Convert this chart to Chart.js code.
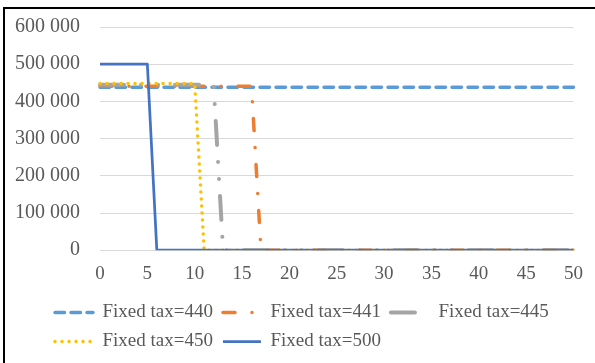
<!DOCTYPE html>
<html>
<head>
<meta charset="utf-8">
<script src="https://cdn.jsdelivr.net/npm/chart.js@4"></script>
<style>
  html, body { margin: 0; padding: 0; background: #fff; overflow: hidden; }
  #frame { position: absolute; left: 3px; top: 7px; width: 700px; height: 500px; border-left: 2px solid #000; border-top: 2px solid #000; }
  #myChart { position: absolute; left: 6px; top: 10px; }
</style>
</head>
<body>
<div id="frame"></div>
<canvas id="myChart" width="589" height="357"></canvas>
<script>
var steps = [0, 1, 2, 3, 4, 5, 6, 7, 8, 9, 10, 11, 12, 13, 14, 15, 16, 17, 18, 19, 20,
	21, 22, 23, 24, 25, 26, 27, 28, 29, 30, 31, 32, 33, 34, 35, 36, 37, 38, 39, 40,
	41, 42, 43, 44, 45, 46, 47, 48, 49, 50]

var seriesNames = ['Fixed tax=440', 'Fixed tax=441', 'Fixed tax=445', 'Fixed tax=450', 'Fixed tax=500']

var tax440 = [438000, 438000, 438000, 438000, 438000, 438000, 438000, 438000, 438000, 438000,
	438000, 438000, 438000, 438000, 438000, 438000, 438000, 438000, 438000, 438000,
	438000, 438000, 438000, 438000, 438000, 438000, 438000, 438000, 438000, 438000,
	438000, 438000, 438000, 438000, 438000, 438000, 438000, 438000, 438000, 438000,
	438000, 438000, 438000, 438000, 438000, 438000, 438000, 438000, 438000, 438000, 438000]

var tax441 = [441000, 441000, 441000, 441000, 441000, 441000, 441000, 441000, 441000, 441000,
	441000, 441000, 441000, 441000, 441000, 441000, 441000, 0, 0, 0,
	0, 0, 0, 0, 0, 0, 0, 0, 0, 0,
	0, 0, 0, 0, 0, 0, 0, 0, 0, 0,
	0, 0, 0, 0, 0, 0, 0, 0, 0, 0, 0]

var tax445 = [445000, 445000, 445000, 445000, 445000, 445000, 445000, 445000, 445000, 445000,
	445000, 445000, 445000, 0, 0, 0, 0, 0, 0, 0,
	0, 0, 0, 0, 0, 0, 0, 0, 0, 0,
	0, 0, 0, 0, 0, 0, 0, 0, 0, 0,
	0, 0, 0, 0, 0, 0, 0, 0, 0, 0, 0]

var tax450 = [448000, 448000, 448000, 448000, 448000, 448000, 448000, 448000, 448000, 448000,
	448000, 0, 0, 0, 0, 0, 0, 0, 0, 0,
	0, 0, 0, 0, 0, 0, 0, 0, 0, 0,
	0, 0, 0, 0, 0, 0, 0, 0, 0, 0,
	0, 0, 0, 0, 0, 0, 0, 0, 0, 0, 0]

var tax500 = [500000, 500000, 500000, 500000, 500000, 500000, 0, 0, 0, 0,
	0, 0, 0, 0, 0, 0, 0, 0, 0, 0,
	0, 0, 0, 0, 0, 0, 0, 0, 0, 0,
	0, 0, 0, 0, 0, 0, 0, 0, 0, 0,
	0, 0, 0, 0, 0, 0, 0, 0, 0, 0, 0]

function spaced(v) {
	return String(v).replace(/\B(?=(\d{3})+(?!\d))/g, ' ')
}

// moves the legend rows right and a bit up, Excel style
var legendShift = {
	id: 'legendShift',
	afterLayout: function(chart) {
		chart.legend.left += 39
		chart.legend.right += 39
		chart.legend.top -= 4
		chart.legend.bottom -= 4
	}
}

Chart.defaults.font.family = '"Liberation Serif", "Times New Roman", serif'
Chart.defaults.color = '#595959'

var ctx = document.getElementById('myChart').getContext('2d')
var chart = new Chart(ctx, {
	type: 'line',
	data: {
		labels: steps,
		datasets: [
			{
				label: seriesNames[0],
				data: tax440,
				borderColor: '#5B9BD5',
				backgroundColor: '#5B9BD5',
				borderWidth: 3.5,
				borderDash: [9.5, 6.5],
				borderCapStyle: 'round',
				order: 5
			},
			{
				label: seriesNames[1],
				data: tax441,
				borderColor: '#ED7D31',
				backgroundColor: '#ED7D31',
				borderWidth: 3.5,
				borderDash: [12, 17, 0.01, 17],
				borderCapStyle: 'round',
				order: 4
			},
			{
				label: seriesNames[2],
				data: tax445,
				borderColor: '#A5A5A5',
				backgroundColor: '#A5A5A5',
				borderWidth: 4,
				borderDash: [24, 17, 0.01, 17, 0.01, 17],
				borderCapStyle: 'round',
				order: 3
			},
			{
				label: seriesNames[3],
				data: tax450,
				borderColor: '#FFC000',
				backgroundColor: '#FFC000',
				borderWidth: 3.5,
				borderDash: [0.01, 7],
				borderCapStyle: 'round',
				order: 2
			},
			{
				label: seriesNames[4],
				data: tax500,
				borderColor: '#4472C4',
				backgroundColor: '#4472C4',
				borderWidth: 2.75,
				borderCapStyle: 'butt',
				order: 1
			}
		]
	},
	options: {
		responsive: false,
		animation: false,
		elements: {
			point: { radius: 0 },
			line: { tension: 0, fill: false, borderJoinStyle: 'round' }
		},
		layout: { padding: { top: 17, right: 16, bottom: 2, left: 0 } },
		scales: {
			x: {
				type: 'category',
				offset: false,
				grid: { display: false, drawTicks: false },
				border: { display: false },
				ticks: {
					autoSkip: false,
					maxRotation: 0,
					padding: 12,
					font: { size: 19 },
					callback: function(val, idx) {
						return idx % 5 === 0 ? this.getLabelForValue(val) : null
					}
				}
			},
			y: {
				min: 0,
				max: 600000,
				grid: { color: '#D9D9D9', lineWidth: 1, drawTicks: true, tickLength: 18, tickColor: 'rgba(0,0,0,0)' },
				border: { display: false },
				ticks: {
					stepSize: 100000,
					padding: 2,
					font: { size: 20 },
					callback: function(v) { return spaced(v) }
				},
				afterFit: function(scale) { scale.width = 94 }
			}
		},
		plugins: {
			tooltip: { enabled: false },
			legend: {
				position: 'bottom',
				align: 'start',
				labels: {
					usePointStyle: true,
					pointStyle: 'line',
					pointStyleWidth: 38,
					boxHeight: 19,
					padding: 10,
					color: '#595959',
					font: { size: 19 },
					sort: function(a, b) { return a.datasetIndex - b.datasetIndex },
					generateLabels: function(chart) {
						// line samples carry the dataset's own dash pattern
						var items = Chart.defaults.plugins.legend.labels.generateLabels(chart)
						items.forEach(function(it) {
							var ds = chart.data.datasets[it.datasetIndex]
							it.lineDash = ds.borderDash || []
							it.lineCap = ds.borderCapStyle || 'butt'
							it.lineWidth = ds.borderWidth
							it.lineDashOffset = 0
						})
						return items
					}
				}
			}
		}
	},
	plugins: [legendShift]
})
</script>
</body>
</html>
